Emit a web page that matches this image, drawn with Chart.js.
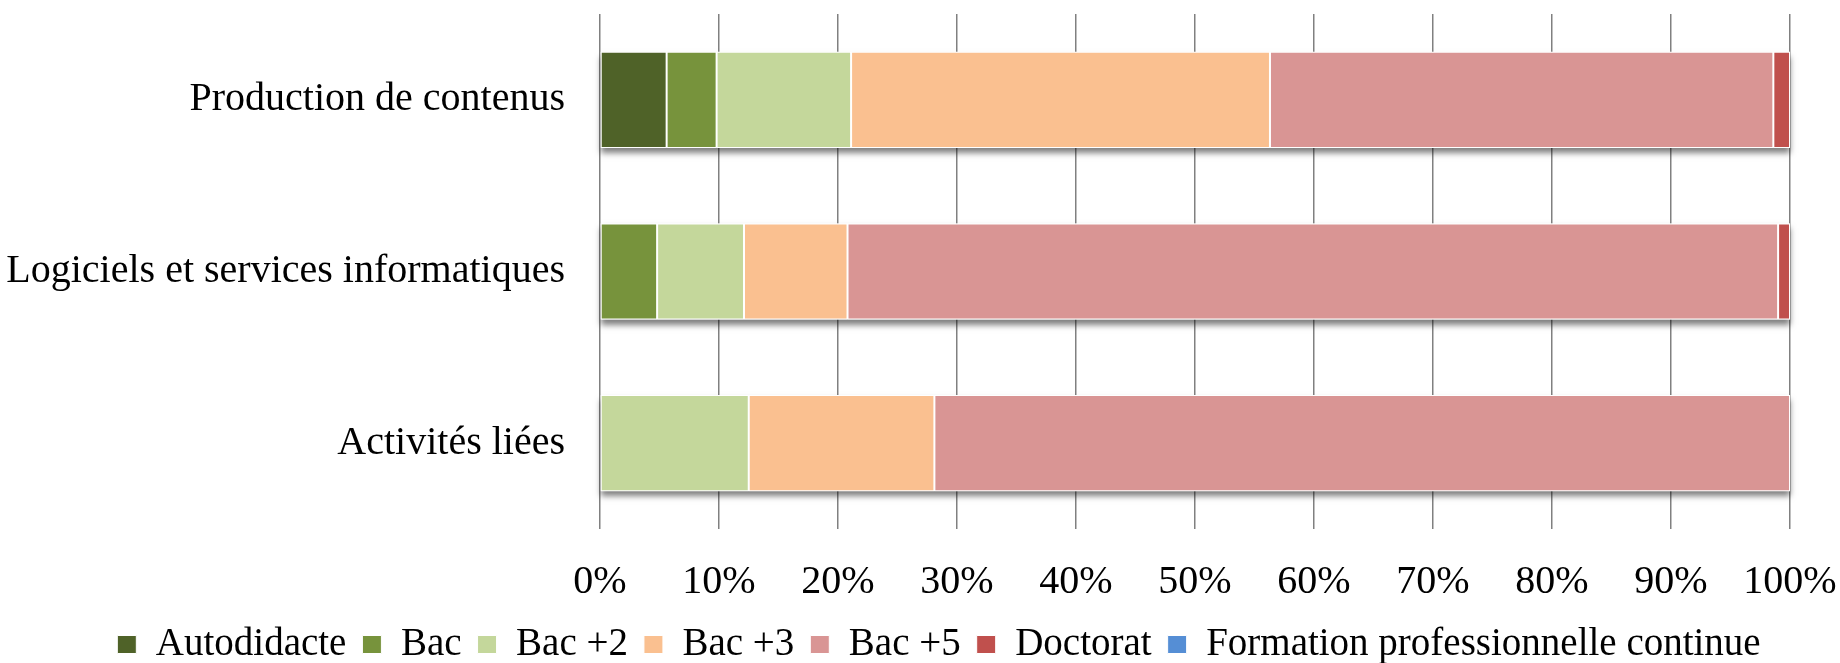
<!DOCTYPE html>
<html lang="fr">
<head>
<meta charset="utf-8">
<title>Niveau de formation par secteur</title>
<script src="https://cdn.jsdelivr.net/npm/chart.js@4/dist/chart.umd.min.js"></script>
<style>
  html, body { margin: 0; padding: 0; background: #ffffff; }
  #wrap { width: 1840px; height: 663px; position: relative; }
</style>
</head>
<body>
<div id="wrap"><canvas id="chart" width="1840" height="663"></canvas></div>
<script>
// Secteurs (une barre par secteur)
const categories = ['Production de contenus', 'Logiciels et services informatiques', 'Activités liées'];

// Répartition (%) par niveau de formation
const autodidacte = [5.6, 0, 0];
const bac         = [4.2, 4.8, 0];
const bac2        = [11.3, 7.3, 12.5];
const bac3        = [35.2, 8.7, 15.6];
const bac5        = [42.3, 78.2, 71.9];
const doctorat    = [1.4, 1.0, 0];
const formation   = [0, 0, 0];

const seriesNames = ['Autodidacte', 'Bac', 'Bac +2', 'Bac +3', 'Bac +5', 'Doctorat', 'Formation professionnelle continue'];
const xTicks = [0, 10, 20, 30, 40, 50, 60, 70, 80, 90, 100];

const colors = ['#4F6228', '#77933C', '#C4D79B', '#FAC090', '#D99594', '#C0504D', '#558ED5'];
const seriesData = [autodidacte, bac, bac2, bac3, bac5, doctorat, formation];

const FONT = "'Liberation Serif', 'Times New Roman', serif";

// Soft drop shadow under each stacked bar, painted before the segments
// from the geometry Chart.js computed for the bar elements
const barShadow = {
  id: 'barShadow',
  beforeDatasetsDraw(chart) {
    const ctx = chart.ctx;
    const n = chart.data.labels.length;
    ctx.save();
    ctx.shadowColor = 'rgba(0,0,0,0.5)';
    ctx.shadowBlur = 6;
    ctx.shadowOffsetX = 0;
    ctx.shadowOffsetY = 5;
    ctx.fillStyle = '#ffffff';
    for (let i = 0; i < n; i++) {
      let x0 = Infinity, x1 = -Infinity, yc = null, h = null;
      chart.data.datasets.forEach((ds, d) => {
        const el = chart.getDatasetMeta(d).data[i];
        if (!el) return;
        const p = el.getProps(['x', 'y', 'base', 'height'], true);
        if (p.x === p.base) return;
        x0 = Math.min(x0, p.base, p.x);
        x1 = Math.max(x1, p.base, p.x);
        yc = p.y;
        h = p.height;
      });
      if (h) ctx.fillRect(x0, yc - h / 2, x1 - x0, h);
    }
    ctx.restore();
  }
};

// Nudge the legend row so it sits centred under the plot
const legendShift = {
  id: 'legendShift',
  afterLayout(chart) {
    if (chart.legend) {
      chart.legend.left += 19;
      chart.legend.right += 19;
    }
  }
};

new Chart(document.getElementById('chart'), {
  type: 'bar',
  data: {
    labels: categories,
    datasets: seriesNames.map((name, i) => ({
      label: name,
      data: seriesData[i],
      backgroundColor: colors[i],
      borderColor: '#ffffff',
      borderWidth: 1,
      borderSkipped: false,
      categoryPercentage: 1.0,
      barPercentage: 0.56
    }))
  },
  options: {
    indexAxis: 'y',
    responsive: false,
    animation: false,
    devicePixelRatio: 1,
    layout: { padding: { left: 0, right: 0, top: 14, bottom: -11 } },
    scales: {
      x: {
        stacked: true,
        min: 0,
        max: 100,
        afterBuildTicks(scale) { scale.ticks = xTicks.map(v => ({ value: v })); },
        afterFit(scale) { scale.height = 80; scale.paddingRight = 50; },
        grid: { color: '#808080', lineWidth: 1.5, drawTicks: false },
        border: { display: false },
        ticks: {
          padding: 29,
          color: '#000',
          font: { family: FONT, size: 40 },
          callback: v => v + '%'
        }
      },
      y: {
        stacked: true,
        afterFit(scale) {
          scale.width = 600;
          scale.paddingTop = 0;
          scale.paddingBottom = 0;
        },
        grid: { display: false, drawTicks: false },
        border: { display: false },
        ticks: {
          padding: 35,
          color: '#000',
          font: { family: FONT, size: 40 }
        }
      }
    },
    plugins: {
      tooltip: { enabled: false },
      legend: {
        position: 'bottom',
        labels: {
          boxWidth: 19,
          boxHeight: 18,
          padding: 16,
          color: '#000',
          font: { family: FONT, size: 39 }
        }
      }
    }
  },
  plugins: [barShadow, legendShift]
});
</script>
</body>
</html>
